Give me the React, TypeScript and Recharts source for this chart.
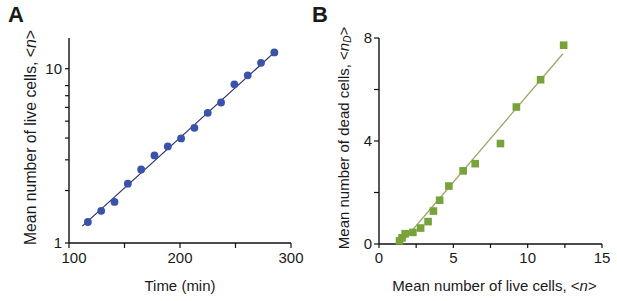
import React from 'react';
import { ScatterChart, Scatter, XAxis, YAxis, Label } from 'recharts';

// Panel A: mean live cells vs time (log scale)
const timeMin = [117, 129, 141, 153, 165, 177, 189, 201, 213, 225, 237, 249, 261, 273, 285];
const liveCells = [1.32, 1.53, 1.72, 2.19, 2.64, 3.18, 3.58, 3.98, 4.58, 5.58, 6.4, 8.13, 9.16, 10.8, 12.4];
const fitTime = [112, 285];
const fitLive = [1.25, 12.4];

// Panel B: mean dead cells vs mean live cells
const liveB = [1.38, 1.55, 1.76, 2.28, 2.8, 3.3, 3.66, 4.08, 4.7, 5.66, 6.47, 8.17, 9.24, 10.87, 12.42];
const deadB = [0.12, 0.24, 0.4, 0.45, 0.62, 0.87, 1.28, 1.7, 2.25, 2.84, 3.12, 3.9, 5.32, 6.38, 7.72];
const fitLiveB = [1.45, 12.37];
const fitDeadB = [0, 7.39];

const xTicksA = [100, 150, 200, 250, 300];
const yTicksA = [1, 2, 3, 4, 5, 6, 7, 8, 9, 10];
const xTicksB = [0, 2.5, 5, 7.5, 10, 12.5, 15];
const yTicksB = [0, 2, 4, 6, 8];

const dataA = timeMin.map((t, i) => ({ x: t, y: liveCells[i] }));
const fitA = fitTime.map((t, i) => ({ x: t, y: fitLive[i] }));
const dataB = liveB.map((n, i) => ({ x: n, y: deadB[i] }));
const fitB = fitLiveB.map((n, i) => ({ x: n, y: fitDeadB[i] }));

const FONT = '"Liberation Sans", Arial, sans-serif';
const INK = '#1a1a1a';
const tickStyle = { fill: INK, fontSize: 15, fontFamily: FONT };
const axisLine = { stroke: '#111', strokeWidth: 1.4 };
const tickLine = { stroke: '#111', strokeWidth: 1.2 };

const noDot = () => <g />;

const Square = (props: any) => {
  const { cx, cy } = props;
  return <rect x={cx - 3.8} y={cy - 3.8} width={7.6} height={7.6} fill="#78a23a" />;
};

const Dot = (props: any) => {
  const { cx, cy } = props;
  return <circle cx={cx} cy={cy} r={3.9} fill="#3a52a8" />;
};

// time ticks: only hundreds labelled, first label nudged clear of the y axis "1"
const TimeTick = (props: any) => {
  const { x, y, payload } = props;
  if (payload.value % 100 !== 0) return <g />;
  const dx = payload.value === 100 ? 5 : 0;
  return (
    <text x={x + dx} y={y} dy="0.71em" textAnchor="middle" fontSize={15} fontFamily={FONT} fill={INK}>
      {payload.value}
    </text>
  );
};

const App: React.FC = () => {
  return (
    <div style={{ position: 'absolute', left: 0, top: 0, width: 617, height: 301, background: '#fff', fontFamily: FONT }}>
      <div style={{ position: 'absolute', left: 8, top: 2, fontSize: 22, fontWeight: 'bold', color: INK }}>A</div>
      <div style={{ position: 'absolute', left: 312, top: 2, fontSize: 22, fontWeight: 'bold', color: INK }}>B</div>

      <div style={{ position: 'absolute', left: 0, top: 0 }}>
        <ScatterChart width={310} height={301} margin={{ top: 38, right: 19, bottom: 0, left: 0 }}>
          <XAxis
            type="number"
            dataKey="x"
            domain={[100, 300]}
            ticks={xTicksA}
            height={58}
            tickSize={5}
            tickMargin={4}
            tick={TimeTick}
            axisLine={axisLine}
            tickLine={tickLine}
            allowDataOverflow
          >
            <Label
              content={({ viewBox }: any) => (
                <text x={viewBox.x + viewBox.width / 2} y={viewBox.y + 42} textAnchor="middle" dominantBaseline="central" fontSize={15} fontFamily={FONT} fill={INK}>
                  Time (min)
                </text>
              )}
            />
          </XAxis>
          <YAxis
            type="number"
            dataKey="y"
            scale="log"
            domain={[1, 15]}
            ticks={yTicksA}
            tickFormatter={(v: number) => (v === 1 || v === 10 ? String(v) : '')}
            width={69}
            tickSize={4}
            tickMargin={3}
            tick={tickStyle}
            axisLine={axisLine}
            tickLine={tickLine}
            allowDataOverflow
          >
            <Label
              content={({ viewBox }: any) => (
                <text
                  transform={`translate(${viewBox.x + 30},${viewBox.y + viewBox.height / 2 - 3}) rotate(-90)`}
                  textAnchor="middle"
                  dominantBaseline="central"
                  fontSize={15.8}
                  fontFamily={FONT}
                  fill={INK}
                >
                  Mean number of live cells, &lt;<tspan fontStyle="italic">n</tspan>&gt;
                </text>
              )}
            />
          </YAxis>
          <Scatter data={fitA} line={{ stroke: '#2b2d6e', strokeWidth: 1.2 }} shape={noDot} isAnimationActive={false} />
          <Scatter data={dataA} shape={Dot} isAnimationActive={false} />
        </ScatterChart>
      </div>

      <div style={{ position: 'absolute', left: 310, top: 0 }}>
        <ScatterChart width={307} height={301} margin={{ top: 38, right: 15, bottom: 0, left: 0 }}>
          <XAxis
            type="number"
            dataKey="x"
            domain={[0, 15]}
            ticks={xTicksB}
            tickFormatter={(v: number) => (v % 5 === 0 ? String(v) : '')}
            height={57}
            tickSize={4}
            tickMargin={4}
            tick={tickStyle}
            axisLine={axisLine}
            tickLine={tickLine}
          >
            <Label
              content={({ viewBox }: any) => (
                <text x={viewBox.x + viewBox.width / 2 + 4} y={viewBox.y + 41} textAnchor="middle" dominantBaseline="central" fontSize={15} fontFamily={FONT} fill={INK}>
                  Mean number of live cells, &lt;<tspan fontStyle="italic">n</tspan>&gt;
                </text>
              )}
            />
          </XAxis>
          <YAxis
            type="number"
            dataKey="y"
            domain={[0, 8]}
            ticks={yTicksB}
            tickFormatter={(v: number) => (v % 4 === 0 ? String(v) : '')}
            width={69}
            tickSize={5}
            tickMargin={2}
            tick={tickStyle}
            axisLine={axisLine}
            tickLine={tickLine}
          >
            <Label
              content={({ viewBox }: any) => (
                <text
                  transform={`translate(${viewBox.x + 33},${viewBox.y + viewBox.height / 2 - 3}) rotate(-90)`}
                  textAnchor="middle"
                  dominantBaseline="central"
                  fontSize={15}
                  fontFamily={FONT}
                  fill={INK}
                >
                  Mean number of dead cells, &lt;<tspan fontStyle="italic">n</tspan>
                  <tspan fontStyle="italic" fontSize={10} dy={4}>D</tspan>
                  <tspan dy={-4}>&gt;</tspan>
                </text>
              )}
            />
          </YAxis>
          <Scatter data={fitB} line={{ stroke: '#9aa86a', strokeWidth: 1.3 }} shape={noDot} isAnimationActive={false} />
          <Scatter data={dataB} shape={Square} isAnimationActive={false} />
        </ScatterChart>
      </div>
    </div>
  );
};

export default App;
